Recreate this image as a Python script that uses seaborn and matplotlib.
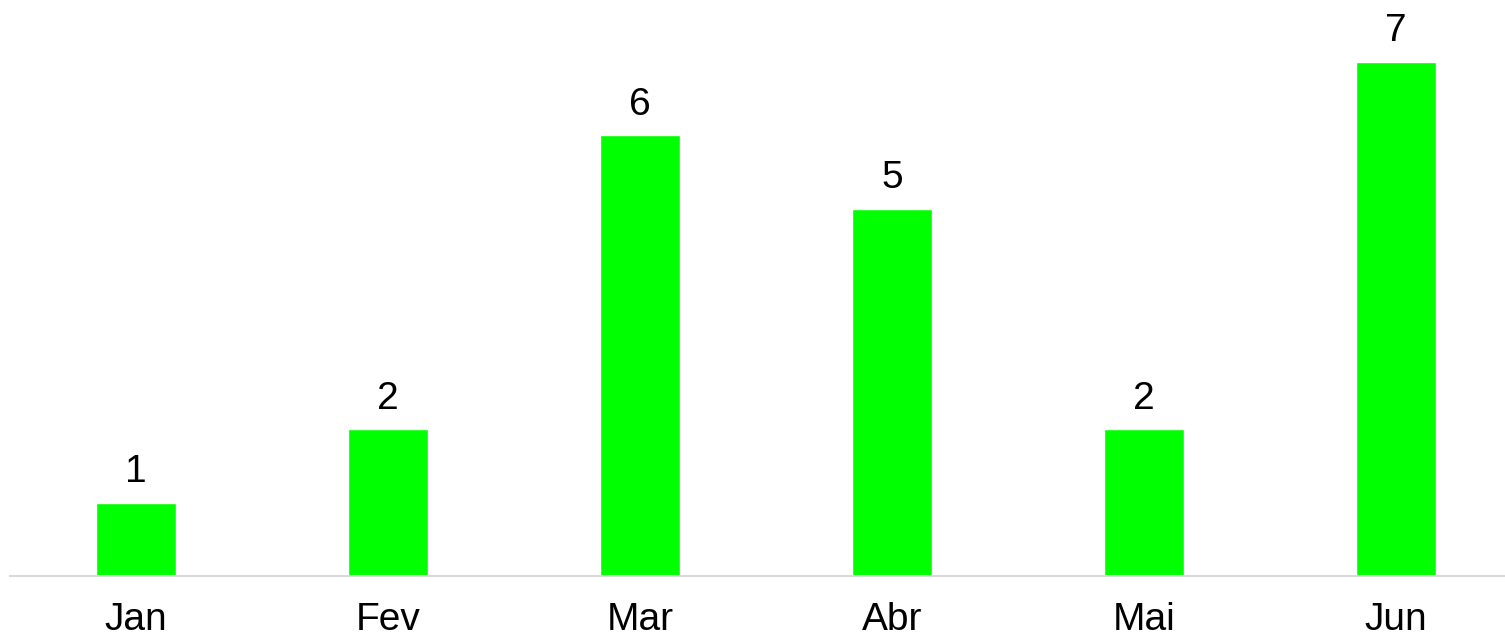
import matplotlib
matplotlib.use('Agg')
import matplotlib.pyplot as plt
import seaborn as sns
import pandas as pd

months = ['Jan', 'Fev', 'Mar', 'Abr', 'Mai', 'Jun']
values = [1, 2, 6, 5, 2, 7]

df = pd.DataFrame({'mes': months, 'valor': values})

sns.set_theme(style='white')
plt.rcParams['font.family'] = ['Liberation Sans', 'DejaVu Sans']

fig = plt.figure(figsize=(15.05, 6.4), dpi=100)
ax = fig.add_axes([10 / 1505, 64 / 640, 1495 / 1505, 576 / 640])

sns.barplot(data=df, x='mes', y='valor', color='#00ff00', saturation=1,
            width=0.315, ax=ax)

for i, v in enumerate(values):
    ax.annotate(str(v), (i, v), xytext=(0, 9), textcoords='offset points',
                ha='center', va='bottom', fontsize=28, color='black')

ax.set_xlim(-0.5, 5.4325)
ax.set_ylim(0, 7.84)
ax.set_xlabel('')
ax.set_ylabel('')
ax.set_yticks([])
ax.tick_params(axis='x', length=0, labelsize=28, pad=19, colors='black')
for s in ['top', 'right', 'left']:
    ax.spines[s].set_visible(False)
ax.spines['bottom'].set_color('#d9d9d9')
ax.spines['bottom'].set_linewidth(1.5)

fig.savefig('out.png', dpi=100)
